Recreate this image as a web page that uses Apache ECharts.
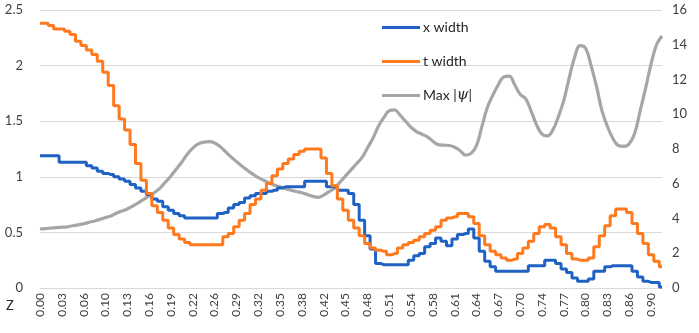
<!DOCTYPE html>
<html>
<head>
<meta charset="utf-8">
<script src="https://cdn.jsdelivr.net/npm/echarts@6/dist/echarts.min.js"></script>
<style>
html, body { margin: 0; padding: 0; background: #fff; }
#chart { width: 699px; height: 333px; }
</style>
</head>
<body>
<div id="chart"></div>
<script>
// z 轴采样步长 0.008，共 115 个点
var zStep = 0.008;
var zCount = 115;
var zValues = [];
for (var i = 0; i < zCount; i++) {
    zValues.push((i * zStep).toFixed(3));
}

// x width (左轴)
var xWidth = [
    1.19, 1.19, 1.19, 1.19, 1.13,
    1.13, 1.13, 1.13, 1.13, 1.10,
    1.08, 1.05, 1.03, 1.02, 1.00,
    0.98, 0.96, 0.93, 0.90, 0.87,
    0.84, 0.80, 0.78, 0.73, 0.70,
    0.67, 0.65, 0.63, 0.63, 0.63,
    0.63, 0.63, 0.63, 0.67, 0.68,
    0.72, 0.75, 0.77, 0.81, 0.83,
    0.85, 0.85, 0.87, 0.88, 0.90,
    0.91, 0.91, 0.91, 0.91, 0.96,
    0.96, 0.96, 0.96, 0.91, 0.91,
    0.88, 0.88, 0.85, 0.75, 0.61,
    0.47, 0.35, 0.22, 0.21, 0.21,
    0.21, 0.21, 0.21, 0.25, 0.29,
    0.31, 0.37, 0.40, 0.45, 0.42,
    0.38, 0.44, 0.48, 0.49, 0.53,
    0.45, 0.33, 0.24, 0.19, 0.15,
    0.15, 0.15, 0.15, 0.15, 0.15,
    0.20, 0.20, 0.20, 0.25, 0.25,
    0.22, 0.17, 0.14, 0.09, 0.06,
    0.06, 0.08, 0.15, 0.15, 0.19,
    0.20, 0.20, 0.20, 0.20, 0.15,
    0.10, 0.06, 0.05, 0.05, 0.01
];

// t width (左轴)
var tWidth = [
    2.38, 2.38, 2.36, 2.33, 2.33,
    2.31, 2.28, 2.22, 2.18, 2.14,
    2.10, 2.04, 1.94, 1.82, 1.64,
    1.52, 1.42, 1.29, 1.12, 0.97,
    0.85, 0.74, 0.68, 0.61, 0.54,
    0.48, 0.44, 0.41, 0.39, 0.39,
    0.39, 0.39, 0.39, 0.39, 0.46,
    0.49, 0.55, 0.61, 0.67, 0.75,
    0.80, 0.88, 0.94, 1.01, 1.07,
    1.12, 1.16, 1.20, 1.23, 1.25,
    1.25, 1.25, 1.17, 1.03, 0.92,
    0.80, 0.70, 0.61, 0.54, 0.47,
    0.40, 0.36, 0.34, 0.33, 0.30,
    0.31, 0.36, 0.39, 0.41, 0.43,
    0.46, 0.49, 0.52, 0.55, 0.61,
    0.63, 0.64, 0.67, 0.67, 0.64,
    0.58, 0.47, 0.39, 0.33, 0.30,
    0.27, 0.25, 0.26, 0.31, 0.36,
    0.42, 0.49, 0.55, 0.57, 0.54,
    0.46, 0.39, 0.31, 0.26, 0.25,
    0.25, 0.27, 0.37, 0.47, 0.56,
    0.65, 0.71, 0.71, 0.68, 0.58,
    0.49, 0.40, 0.30, 0.24, 0.19
];

// Max |ψ| (右轴)
var maxPsi = [
    3.40, 3.42, 3.45, 3.48, 3.50,
    3.52, 3.58, 3.63, 3.70, 3.78,
    3.86, 3.95, 4.05, 4.15, 4.30,
    4.43, 4.55, 4.72, 4.90, 5.10,
    5.30, 5.50, 5.75, 6.10, 6.45,
    6.85, 7.25, 7.70, 8.05, 8.30,
    8.40, 8.42, 8.35, 8.15, 7.85,
    7.55, 7.28, 7.02, 6.78, 6.55,
    6.35, 6.20, 6.05, 5.92, 5.82,
    5.72, 5.63, 5.55, 5.48, 5.38,
    5.28, 5.22, 5.35, 5.55, 5.75,
    6.10, 6.45, 6.80, 7.15, 7.50,
    8.05, 8.60, 9.30, 9.80, 10.20,
    10.25, 9.95, 9.60, 9.25, 9.00,
    8.85, 8.70, 8.45, 8.25, 8.22,
    8.20, 8.10, 7.90, 7.65, 7.75,
    8.20, 9.30, 10.40, 11.10, 11.70,
    12.15, 12.20, 11.70, 11.15, 10.90,
    10.20, 9.40, 8.85, 8.75, 9.10,
    9.85, 10.80, 12.10, 13.30, 13.95,
    13.80, 12.80, 11.60, 10.20, 9.30,
    8.60, 8.20, 8.15, 8.30, 8.90,
    10.20, 11.50, 12.90, 14.00, 14.50
];

var seriesNames = ['x width', 't width', 'Max |ψ|'];
var colors = ['#1F62C4', '#FF7A1E', '#A6A6A6'];

var chart = echarts.init(document.getElementById('chart'));
var font = 'Lato, "Open Sans", sans-serif';

var option = {
    animation: false,
    color: colors,
    textStyle: { fontFamily: font },
    grid: { left: 40, right: 37, top: 10, bottom: 45 },
    legend: {
        orient: 'vertical',
        left: 377,
        top: 14,
        itemWidth: 38,
        itemHeight: 3,
        itemGap: 17,
        icon: 'rect',
        data: seriesNames,
        formatter: function (name) {
            if (name === 'Max |ψ|') return 'Max |{p|ψ}|';
            return name;
        },
        textStyle: {
            fontSize: 14,
            color: '#262626',
            padding: [0, 0, 0, -2],
            lineHeight: 17,
            rich: {
                p: { fontSize: 15, fontStyle: 'italic', fontFamily: '"DejaVu Serif", serif', color: '#262626' }
            }
        }
    },
    graphic: [
        {
            type: 'text',
            left: 6,
            top: 299,
            style: { text: 'Z', fontSize: 13, fill: '#262626', fontFamily: font }
        }
    ],
    xAxis: {
        type: 'category',
        data: zValues,
        boundaryGap: false,
        axisLine: { lineStyle: { color: '#D9D9D9' } },
        axisTick: { show: false },
        axisLabel: {
            interval: 3,
            rotate: 90,
            margin: 5,
            fontSize: 12,
            color: '#404040',
            formatter: function (v) { return parseFloat(v).toFixed(2); }
        },
        splitLine: { show: false }
    },
    yAxis: [
        {
            type: 'value',
            min: 0,
            max: 2.5,
            interval: 0.5,
            axisLine: { show: false },
            axisTick: { show: false },
            axisLabel: { fontSize: 13, color: '#404040', margin: 17 },
            splitLine: { lineStyle: { color: '#D9D9D9' } }
        },
        {
            type: 'value',
            min: 0,
            max: 16,
            interval: 2,
            axisLine: { show: false },
            axisTick: { show: false },
            axisLabel: { fontSize: 13, color: '#404040', margin: 10 },
            splitLine: { show: false }
        }
    ],
    series: [
        {
            name: seriesNames[0],
            type: 'line',
            step: 'middle',
            yAxisIndex: 0,
            data: xWidth,
            showSymbol: false,
            lineStyle: { width: 3 },
            z: 3
        },
        {
            name: seriesNames[1],
            type: 'line',
            step: 'middle',
            yAxisIndex: 0,
            data: tWidth,
            showSymbol: false,
            lineStyle: { width: 3 },
            z: 4
        },
        {
            name: seriesNames[2],
            type: 'line',
            smooth: 0.4,
            yAxisIndex: 1,
            data: maxPsi,
            showSymbol: false,
            lineStyle: { width: 3.2 },
            z: 2
        }
    ]
};

chart.setOption(option);
</script>
</body>
</html>
